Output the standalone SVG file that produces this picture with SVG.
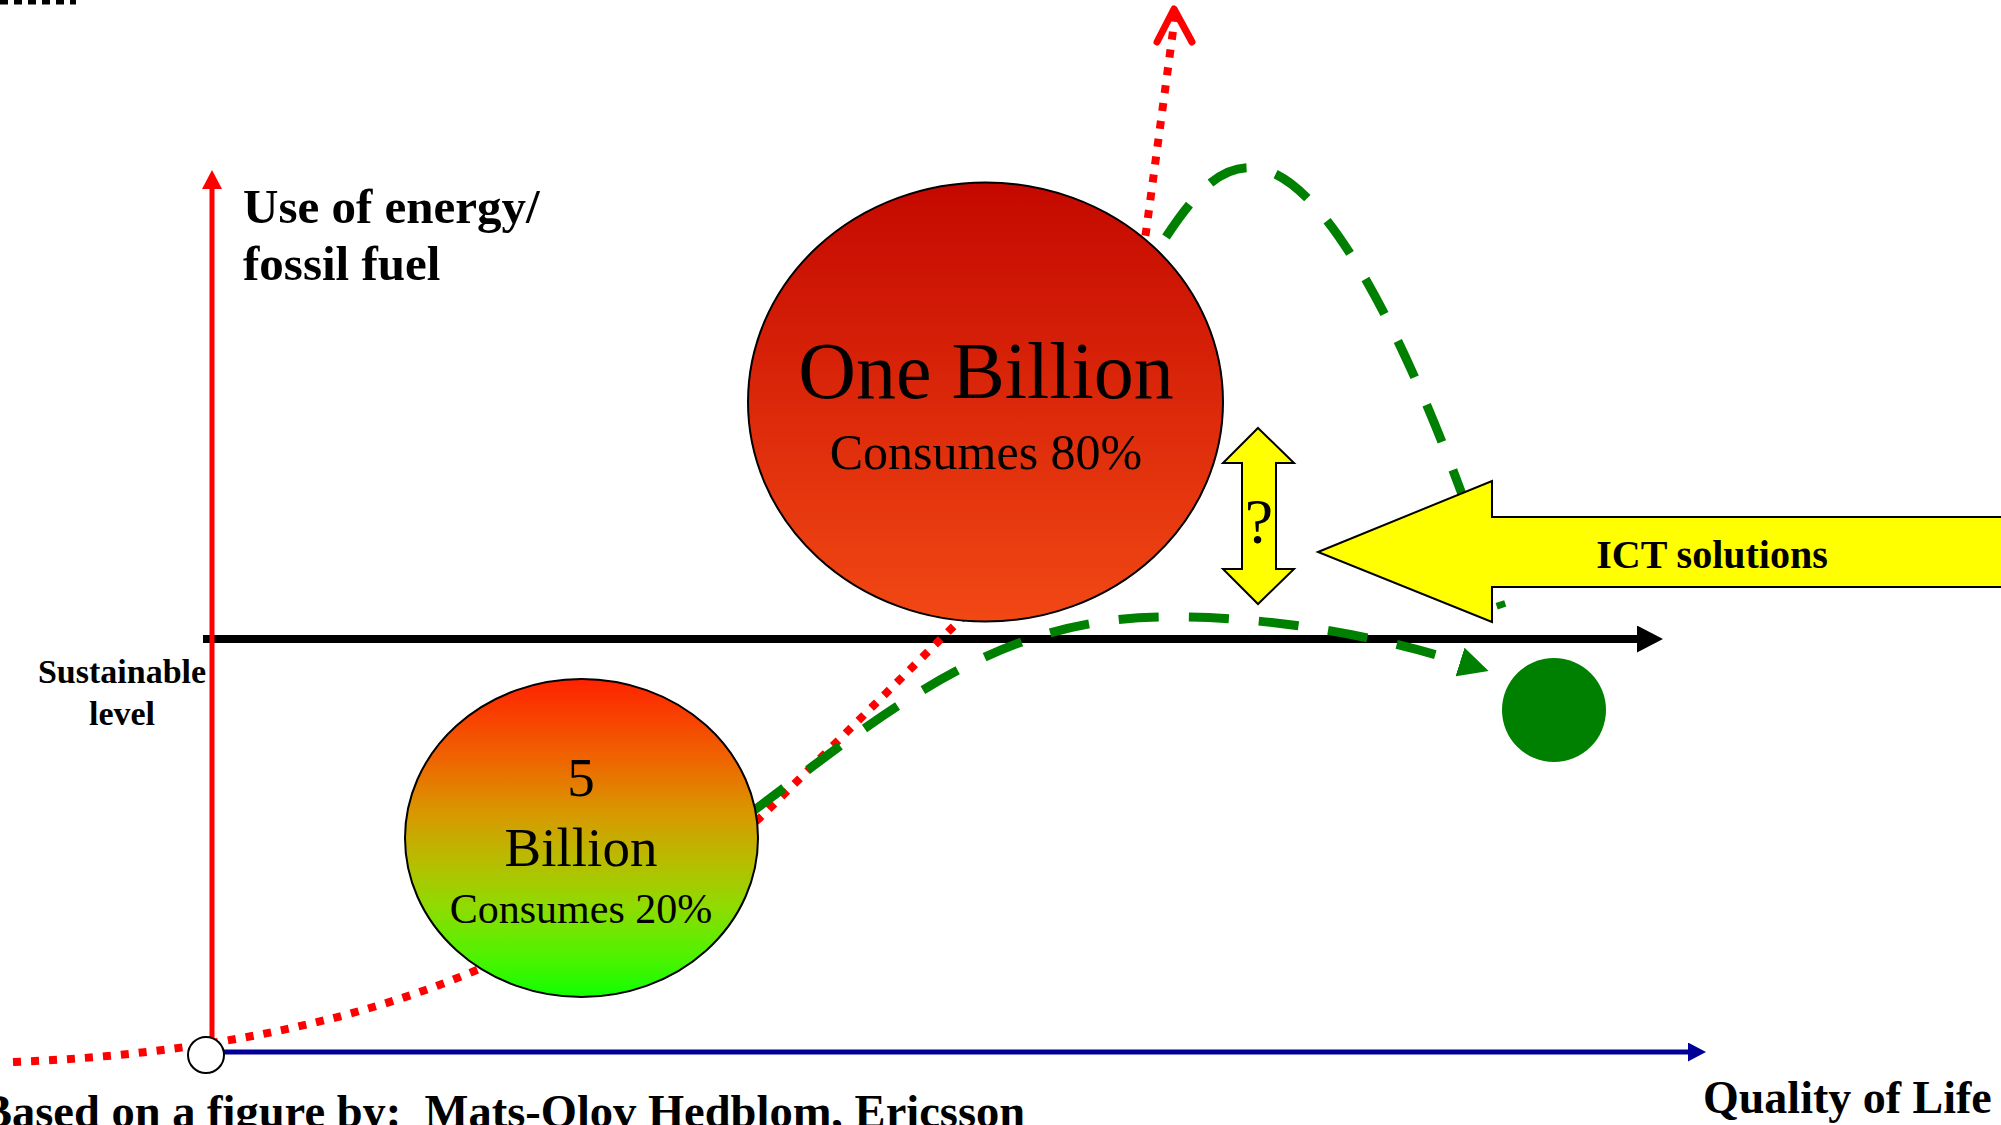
<svg xmlns="http://www.w3.org/2000/svg" width="2001" height="1125" viewBox="0 0 2001 1125">
<style>
.lbl{font-family:"Liberation Serif","Times New Roman",serif;font-weight:bold;fill:#000}
.big{font-family:"Liberation Serif","Times New Roman",serif;fill:#000}
.reddot{fill:none;stroke:#ff0000;stroke-width:8;stroke-dasharray:8 10}
.greendash{fill:none;stroke:#008000;stroke-width:9;stroke-dasharray:40 30}
.yellow{fill:#ffff00;stroke:#000;stroke-width:2;stroke-linejoin:miter}
</style>
<defs>
<linearGradient id="gradRed" x1="0" y1="0" x2="0" y2="1">
<stop offset="0" stop-color="#c40800"/>
<stop offset="1" stop-color="#f24814"/>
</linearGradient>
<linearGradient id="gradRG" x1="0" y1="0" x2="0" y2="1">
<stop offset="0" stop-color="#ff2200"/>
<stop offset="0.25" stop-color="#ef6400"/>
<stop offset="0.42" stop-color="#d89800"/>
<stop offset="0.57" stop-color="#b8bc00"/>
<stop offset="0.72" stop-color="#8edc00"/>
<stop offset="0.87" stop-color="#50f200"/>
<stop offset="1" stop-color="#10ff00"/>
</linearGradient>
<marker id="mRed" markerUnits="userSpaceOnUse" markerWidth="20" markerHeight="20" refX="0" refY="10" orient="auto">
<path d="M0,0 L19,10 L0,20 z" fill="#ff0000"/>
</marker>
<marker id="mBlack" markerUnits="userSpaceOnUse" markerWidth="27" markerHeight="27" refX="0" refY="13.5" orient="auto">
<path d="M0,0 L26,13.5 L0,27 z" fill="#000"/>
</marker>
<marker id="mBlue" markerUnits="userSpaceOnUse" markerWidth="19" markerHeight="19" refX="0" refY="9.5" orient="auto">
<path d="M0,0 L18,9.5 L0,19 z" fill="#000099"/>
</marker>
<marker id="mGreen" markerUnits="userSpaceOnUse" markerWidth="30" markerHeight="30" refX="0" refY="15" orient="auto">
<path d="M0,0 L30,15 L0,30 z" fill="#008000"/>
</marker>
</defs>
<rect x="0" y="0" width="2001" height="1125" fill="#fff"/>
<line x1="0" y1="2" x2="76" y2="2" stroke="#000" stroke-width="5" stroke-dasharray="8 6"/>

<g id="connectors">
<line id="sustainable-line" x1="203" y1="639" x2="1637" y2="639" stroke="#000" stroke-width="8" marker-end="url(#mBlack)"/>
<line id="quality-axis" x1="222" y1="1052" x2="1688" y2="1052" stroke="#000099" stroke-width="5" marker-end="url(#mBlue)"/>
<path id="red-curve" class="reddot" d="M13,1062 C200,1055 380,1020 520,950 C640,890 720,860 770,808 L960,620 C1080,500 1130,330 1146,232 L1175,16"/>
<polyline points="1157,42 1174,9 1192,42" fill="none" stroke="#ff0000" stroke-width="7" stroke-linecap="round" stroke-linejoin="round"/>
<path id="green-curve-low" class="greendash" d="M752,812 C900,700 1000,620 1160,617 C1280,615 1390,640 1460,662" marker-end="url(#mGreen)"/>
<path id="green-curve-high" class="greendash" d="M1166,237 C1200,185 1225,165 1255,168 C1330,175 1420,360 1502,608"/>
<line id="energy-axis" x1="212" y1="1040" x2="212" y2="189" stroke="#ff0000" stroke-width="5" marker-end="url(#mRed)"/>
</g>

<g id="origin">
<circle cx="206" cy="1055" r="18" fill="#fff" stroke="#000" stroke-width="2"/>
</g>

<g id="five-billion">
<ellipse cx="581.5" cy="838" rx="176.5" ry="159" fill="url(#gradRG)" stroke="#000" stroke-width="2"/>
<text class="big" x="581" y="796" font-size="55" text-anchor="middle">5</text>
<text class="big" x="581" y="866" font-size="55" text-anchor="middle">Billion</text>
<text class="big" x="581" y="923" font-size="42" text-anchor="middle">Consumes 20%</text>
</g>

<g id="one-billion">
<ellipse cx="985.5" cy="402" rx="237.5" ry="219.5" fill="url(#gradRed)" stroke="#000" stroke-width="2"/>
<text class="big" x="986" y="398" font-size="80" text-anchor="middle">One Billion</text>
<text class="big" x="986" y="469" font-size="50" text-anchor="middle">Consumes 80%</text>
</g>

<g id="question-arrow">
<polygon class="yellow" points="1258,428 1294,463 1276,463 1276,569 1294,569 1258,604 1223,569 1242,569 1242,463 1223,463"/>
<text class="big" x="1259" y="543" font-size="64" text-anchor="middle">?</text>
</g>

<g id="ict-solutions">
<polygon class="yellow" points="1318,552 1492,481 1492,517 2010,517 2010,587 1492,587 1492,622"/>
<text class="lbl" x="1712" y="568" font-size="40" text-anchor="middle">ICT solutions</text>
</g>

<g id="sustainable-goal">
<circle cx="1554" cy="710" r="52" fill="#008000"/>
</g>

<g id="labels">
<text class="lbl" x="243" y="223" font-size="49">Use of energy/</text>
<text class="lbl" x="243" y="280" font-size="49">fossil fuel</text>
<text class="lbl" x="122" y="683" font-size="34" text-anchor="middle">Sustainable</text>
<text class="lbl" x="122" y="725" font-size="34" text-anchor="middle">level</text>
<text class="lbl" x="1703" y="1113" font-size="46">Quality of Life</text>
<text class="lbl" x="-19" y="1127" font-size="46.5" xml:space="preserve">Based on a figure by:  Mats-Olov Hedblom, Ericsson</text>
</g>
</svg>
